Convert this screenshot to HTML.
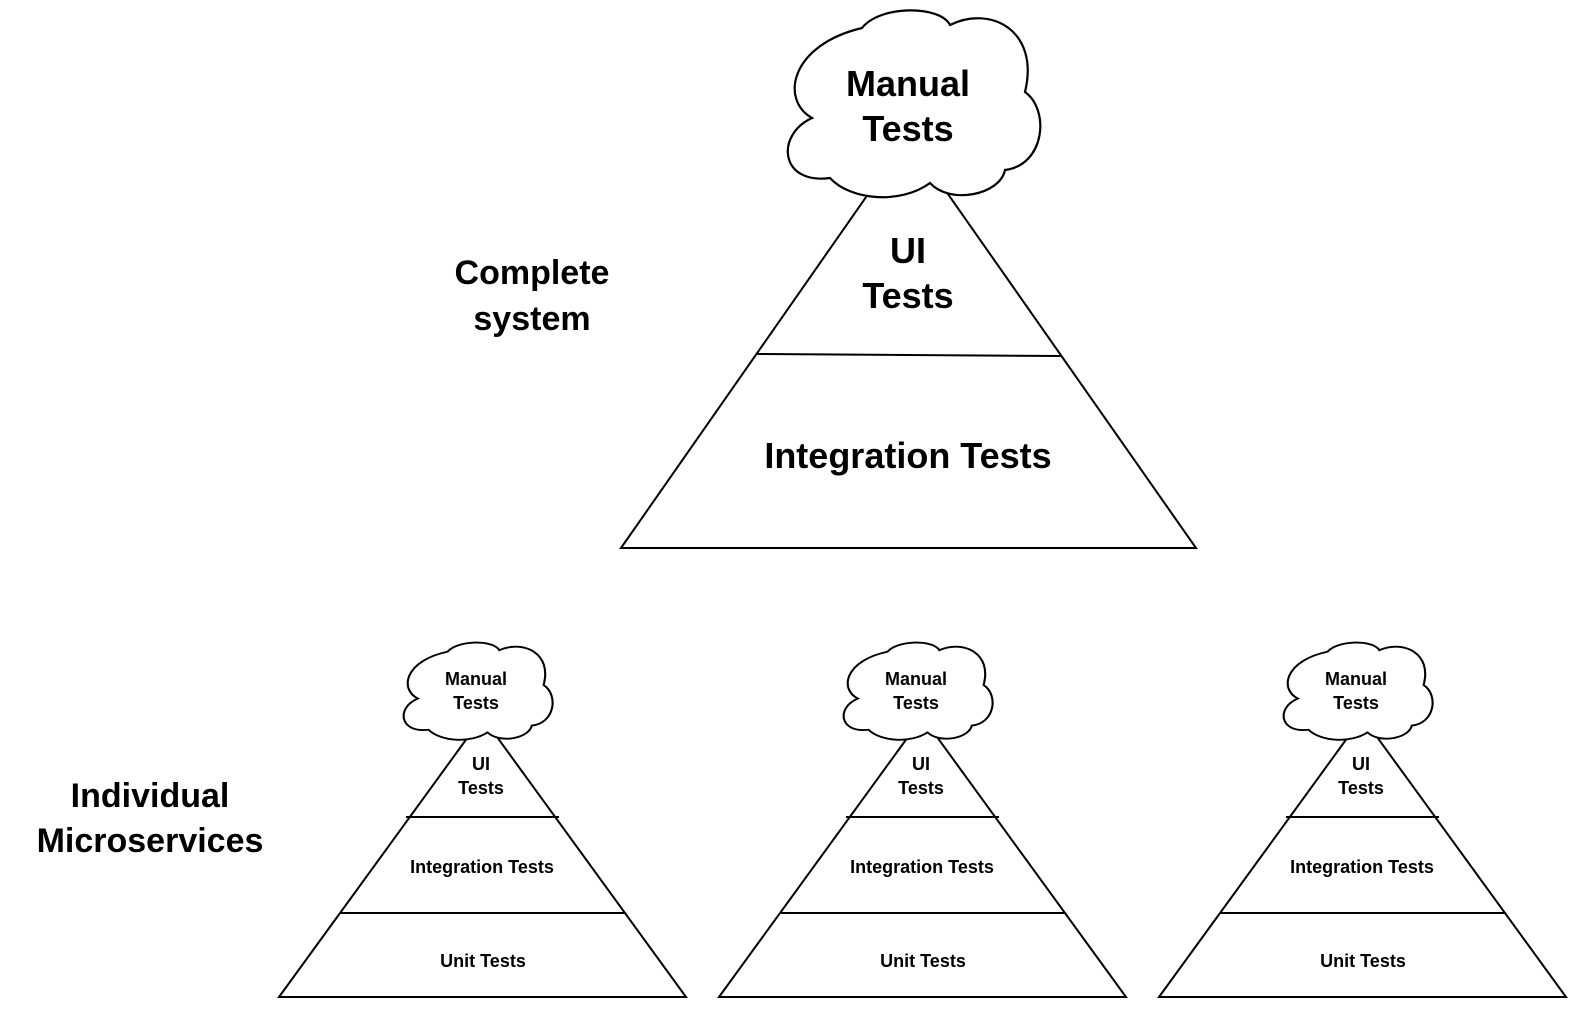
<!DOCTYPE html>
<html><head><style>
body{margin:0;background:#fff}
svg{display:block}
text{font-family:"Liberation Sans",Arial,sans-serif;font-weight:bold;fill:#000;text-anchor:middle}
</style></head><body>
<svg width="1586" height="1011" viewBox="0 0 1586 1011">
<defs>
<path id="cl" d="M812,118 C780,100 790,45 862,28 C880,5 940,5 950,25 C990,5 1040,30 1025,92 C1050,110 1045,165 1005,170 C1000,195 950,205 930,183 C900,205 850,200 830,178 C780,185 775,135 812,118 Z"/>
</defs>
<g fill="none" stroke="#000" stroke-width="2">
<path d="M621,548 L908,137 L1196,548 Z"/>
<line x1="757" y1="354" x2="1062" y2="356"/>
</g>
<use href="#cl" fill="#fff" stroke="#000" stroke-width="2.2"/>
<text x="908" y="96" font-size="36">Manual</text>
<text x="908" y="141" font-size="36">Tests</text>
<text x="908" y="263" font-size="36">UI</text>
<text x="908" y="308" font-size="36">Tests</text>
<text x="908" y="468" font-size="36">Integration Tests</text>
<text x="532" y="284" font-size="34">Complete</text>
<text x="532" y="330" font-size="34">system</text>
<text x="150" y="807" font-size="34">Individual</text>
<text x="150" y="852" font-size="34">Microservices</text>

<g id="sp">
<g fill="none" stroke="#000" stroke-width="2">
<path d="M279,997 L482.5,717 L686,997 Z"/>
<line x1="341" y1="913" x2="626" y2="913"/>
<line x1="406" y1="817" x2="559" y2="817"/>
</g>
<g transform="translate(402,645) scale(0.59,0.52) translate(-785,-15)">
<use href="#cl" fill="#fff" stroke="#000" stroke-width="3.6"/>
</g>
<text x="476" y="685" font-size="18">Manual</text>
<text x="476" y="709" font-size="18">Tests</text>
<text x="481" y="770" font-size="18">UI</text>
<text x="481" y="794" font-size="18">Tests</text>
<text x="482" y="873" font-size="18">Integration Tests</text>
<text x="483" y="967" font-size="18">Unit Tests</text>
</g>
<use href="#sp" transform="translate(440,0)"/>
<use href="#sp" transform="translate(880,0)"/>
</svg>
</body></html>
